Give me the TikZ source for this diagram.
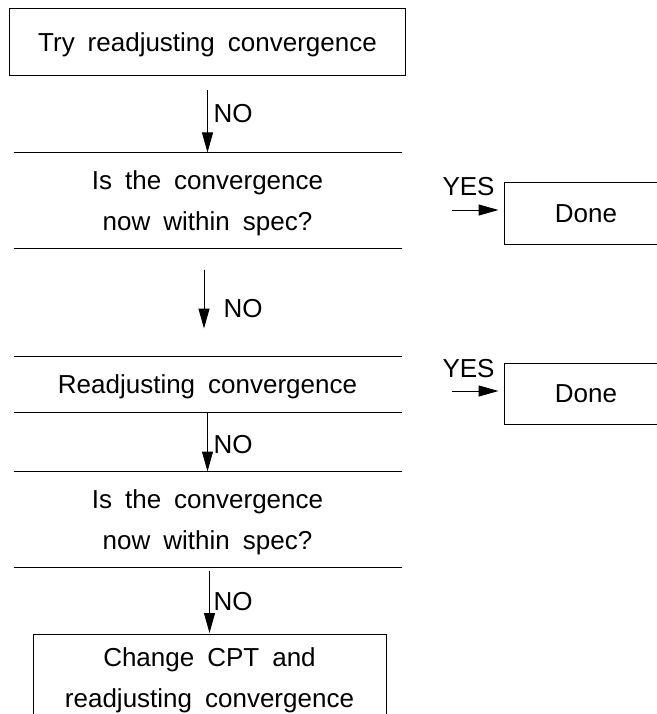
\documentclass[tikz,border=0pt]{standalone}
\usepackage{fontspec}
\setmainfont{Liberation Sans}[WordSpace=1.8]
\usetikzlibrary{arrows.meta, positioning}

\begin{document}
\begin{tikzpicture}[x=1pt, y=-1pt, line width=1pt,
        every node/.style={font=\fontsize{26}{41}\selectfont, inner sep=0pt},
        block/.style={minimum width=387pt, minimum height=95pt, align=center, text depth=0pt},
        framed/.style={draw, minimum height=61pt, minimum width=164pt, text depth=0pt},
        arr/.style={-{Triangle[length=20pt, width=11pt]}}]
        \useasboundingbox (0,0) rectangle (656,714);
        % main column
        \node[draw, minimum width=396pt, minimum height=67pt, text depth=0pt] (try) at (207.5,42.5) {Try readjusting convergence};
        \node[block] (ask1) at (207.5,200.5) {Is the convergence\\now within spec?};
        \draw (ask1.north west) -- (ask1.north east);
        \draw (ask1.south west) -- (ask1.south east);
        \node[block, minimum height=55pt] (redo) at (207.5,384.5) {Readjusting convergence};
        \draw (redo.north west) -- (redo.north east);
        \draw (redo.south west) -- (redo.south east);
        \node[block] (ask2) at (207.5,519.5) {Is the convergence\\now within spec?};
        \draw (ask2.north west) -- (ask2.north east);
        \draw (ask2.south west) -- (ask2.south east);
        \node[draw, minimum width=353pt, anchor=north, inner ysep=13pt, align=center, text depth=0pt] (change) at (209.5,634) {Change CPT and\\readjusting convergence};
        % NO arrows
        \draw[arr, shorten <=14pt] (try.south) -- (ask1.north);
        \draw[arr, shorten <=21pt, shorten >=28pt] ([xshift=-3.5pt]ask1.south) -- ([xshift=-3.5pt]redo.north);
        \draw[arr] (redo.south) -- (ask2.north);
        \draw[arr, shorten <=3pt, shorten >=1pt] (ask2.south -| change.north) -- (change.north);
        \node[anchor=base west] (no1) at (213,123) {NO};
        \node[anchor=base west] (no2) at (223,317) {NO};
        \node[anchor=base west] (no3) at (213,453) {NO};
        \node[anchor=base west] (no4) at (213,610) {NO};
        % YES side
        \node[framed] (done1) at (586,213.5) {Done};
        \node[framed] (done2) at (586,393.5) {Done};
        \node[anchor=base west] (yes1) at (442,195) {YES};
        \node[anchor=base west] (yes2) at (442,377) {YES};
        \coordinate (in1) at (452,210);
        \coordinate (in2) at (452,391);
        \draw[arr, shorten >=5pt] (in1) -- (in1 -| done1.west);
        \draw[arr, shorten >=5pt] (in2) -- (in2 -| done2.west);
    \end{tikzpicture}
\end{document}
